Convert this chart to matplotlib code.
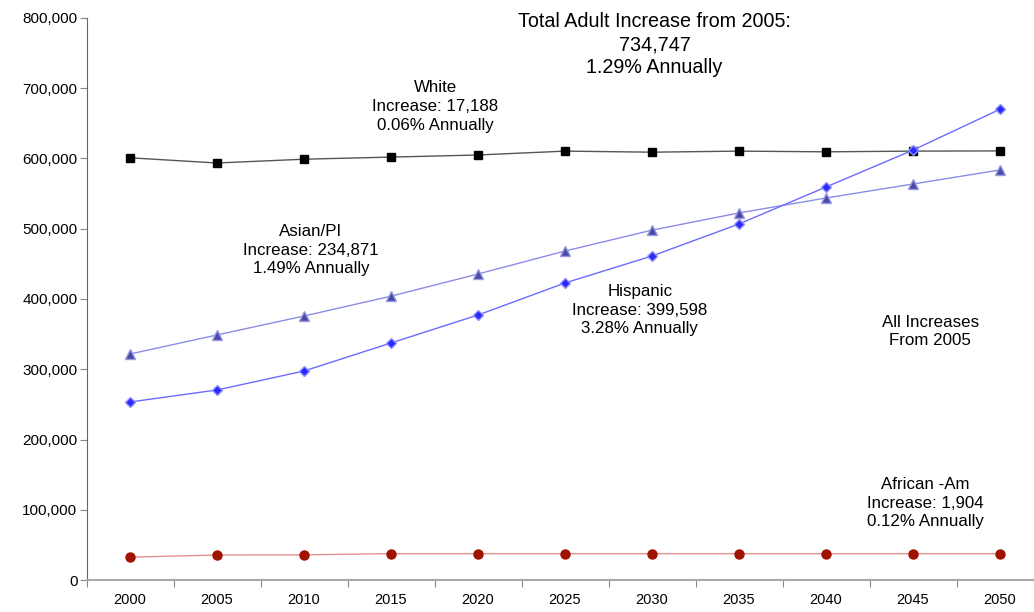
import matplotlib.pyplot as plt
from matplotlib.ticker import FuncFormatter

plt.rcParams['font.family'] = ['Liberation Sans', 'DejaVu Sans']

years = ['2000', '2005', '2010', '2015', '2020', '2025', '2030', '2035', '2040', '2045', '2050']

# adult population by group
white = [601000, 593600, 599000, 602000, 605000, 610500, 609000, 610500, 609500, 610500, 610800]
asian = [321700, 348800, 375800, 404000, 435600, 468300, 498000, 522500, 543800, 563700, 583700]
hispanic = [253400, 270500, 297500, 337400, 377200, 422800, 461200, 506800, 559400, 612000, 670100]
african = [32500, 35600, 35800, 37500, 37500, 37500, 37500, 37500, 37500, 37500, 37500]

x = list(range(len(years)))

fig = plt.figure(figsize=(10.34, 6.12), dpi=100)
ax = fig.add_axes([86.5 / 1034, 32 / 612, 957 / 1034, 562 / 612])

ax.plot(x, white, color='#555555', lw=1, marker='s', ms=6, mfc='black', mec='black')
ax.plot(x, asian, color='#8c8ce6', lw=1, marker='^', ms=7, mfc='#4a4aa8', mec='#9a9ae0')
ax.plot(x, hispanic, color='#6b6bff', lw=1, marker='D', ms=5, mfc='#2a2aff', mec='#9090ff')
ax.plot(x, african, color='#e09090', lw=1, marker='o', ms=6.5, mfc='#a01200', mec='#a01200')

ax.set_xlim(-0.5, 10.5)
ax.set_ylim(0, 800000)
ax.set_yticks(range(0, 800001, 100000))
ax.yaxis.set_major_formatter(FuncFormatter(lambda v, p: f'{int(v):,}'))
ax.set_xticks([i - 0.5 for i in range(12)])
ax.set_xticklabels([])
ax.set_xticks(x, minor=True)
ax.set_xticklabels(years, minor=True)
ax.tick_params(axis='x', which='minor', length=0, pad=9.5, labelsize=10.5)
ax.tick_params(axis='x', which='major', length=5, color='#888888')
ax.tick_params(axis='y', length=5, color='#888888', labelsize=11, pad=1.5)

for s in ['top', 'right']:
    ax.spines[s].set_visible(False)
ax.spines['left'].set_color('#666666')
ax.spines['bottom'].set_color('#aaaaaa')
ax.spines['bottom'].set_linewidth(1.5)

kw = dict(ha='center', va='center', fontsize=12.2, linespacing=1.3)
ax.text(6.03, 762000, 'Total Adult Increase from 2005:\n734,747\n1.29% Annually',
        ha='center', va='center', fontsize=14.2, linespacing=1.25)
ax.text(3.51, 674000, 'White\nIncrease: 17,188\n0.06% Annually', **kw)
ax.text(2.08, 469500, 'Asian/PI\nIncrease: 234,871\n1.49% Annually', **kw)
ax.text(5.86, 384000, 'Hispanic\nIncrease: 399,598\n3.28% Annually', **kw)
ax.text(9.2, 354000, 'All Increases\nFrom 2005', **kw)
ax.text(9.14, 109500, 'African -Am\nIncrease: 1,904\n0.12% Annually', **kw)

fig.savefig('out.png', dpi=100)
